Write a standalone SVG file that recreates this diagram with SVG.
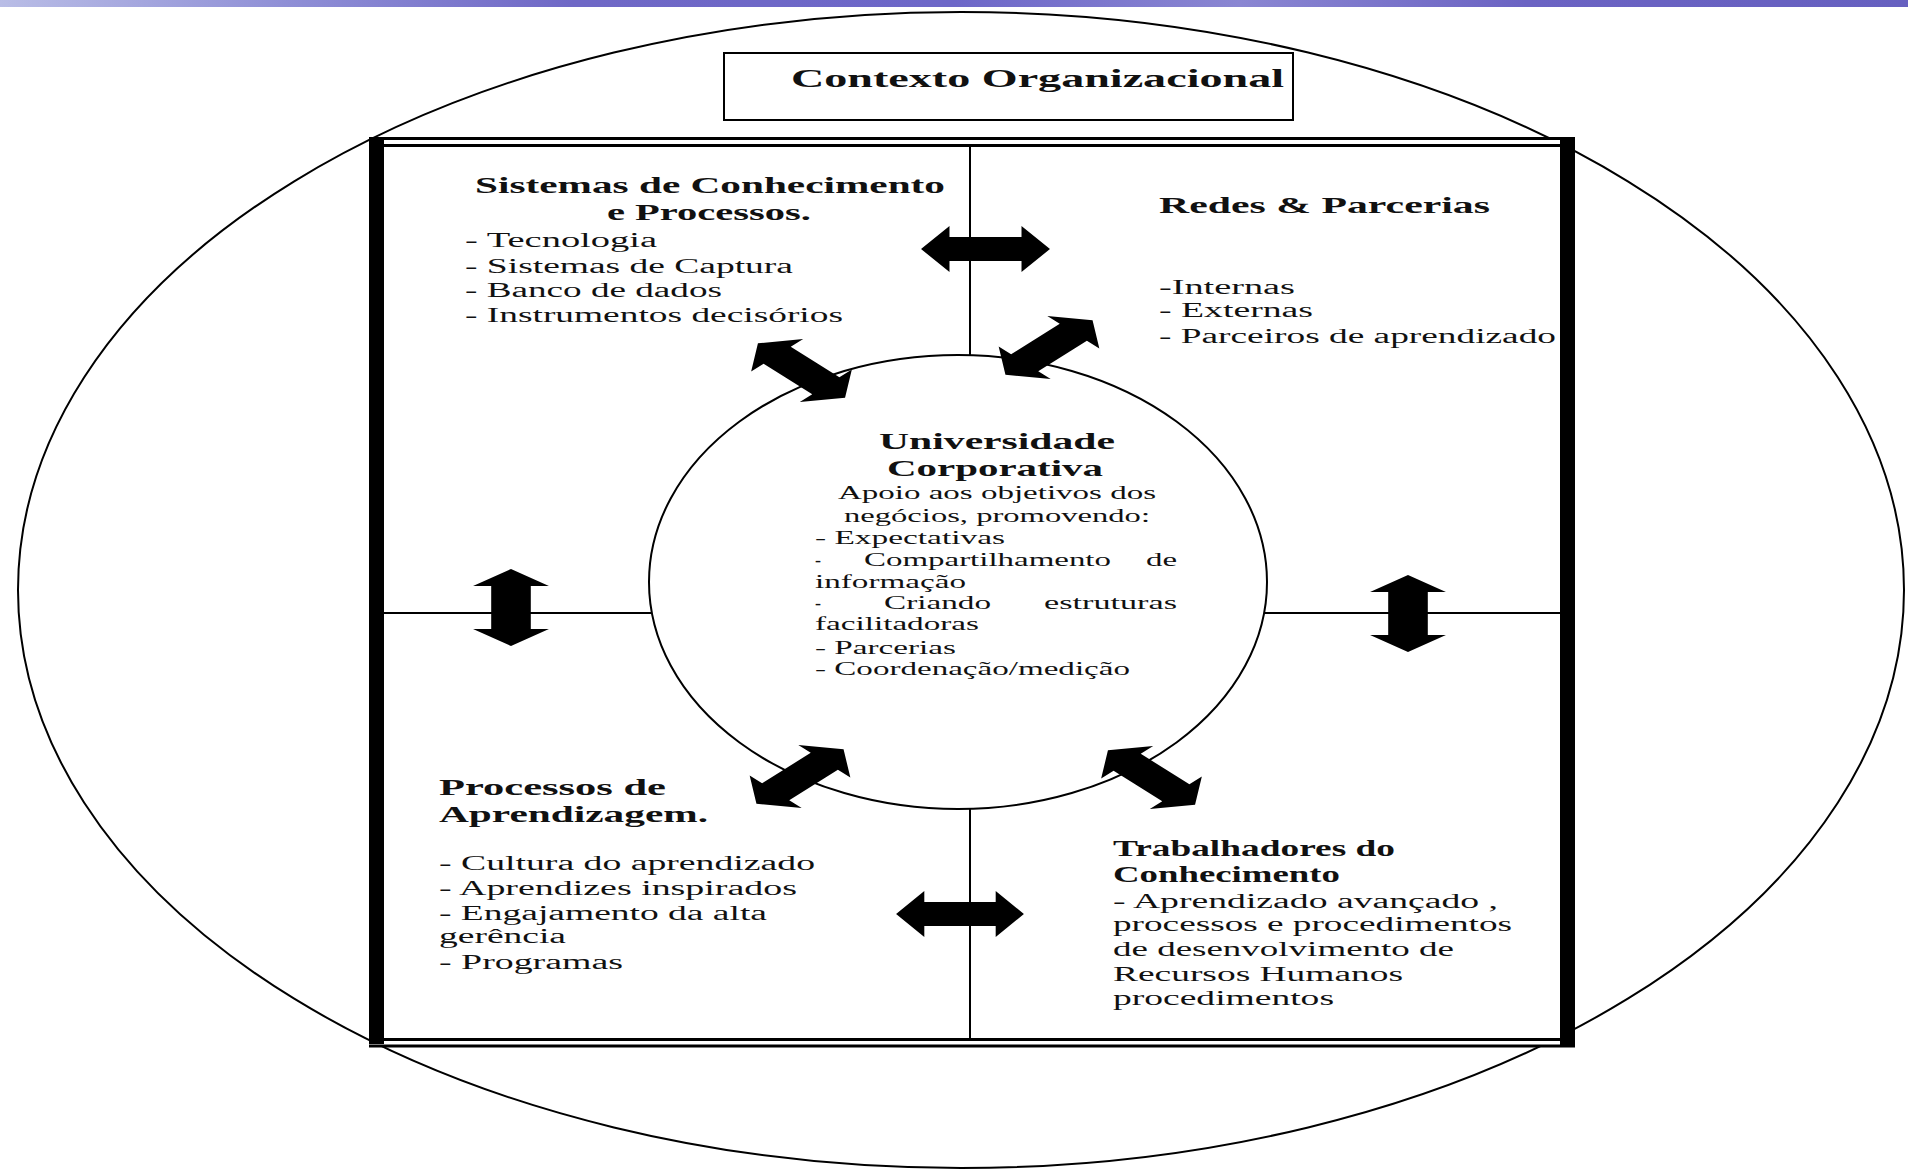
<svg xmlns="http://www.w3.org/2000/svg" width="1908" height="1170" viewBox="0 0 1908 1170">
<style>
.ln{fill:none;stroke:#000;stroke-width:2}
.t{font-family:"Liberation Serif","Times New Roman",serif;fill:#111}
.b{font-weight:bold;font-size:23px}
.r{font-size:20px}
.s{font-size:18px}
.arr{fill:#000}
</style>
<defs>
<linearGradient id="band" x1="0" y1="0" x2="1" y2="0">
<stop offset="0" stop-color="#b9bde6"/>
<stop offset="0.15" stop-color="#8f8fd6"/>
<stop offset="0.3" stop-color="#6f68c6"/>
<stop offset="0.5" stop-color="#6d67c8"/>
<stop offset="0.65" stop-color="#8a86d2"/>
<stop offset="0.8" stop-color="#6b63c3"/>
<stop offset="1" stop-color="#6660c0"/>
</linearGradient>
<polygon id="dbl" points="-38.5,0 -21.5,-23 -21.5,-12 21.5,-12 21.5,-23 38.5,0 21.5,23 21.5,12 -21.5,12 -21.5,23"/>
</defs>
<rect x="0" y="0" width="1908" height="1170" fill="#fff"/>
<rect x="0" y="0" width="1908" height="7" fill="url(#band)"/>

<g id="contexto">
<ellipse cx="961" cy="590" rx="943" ry="578" class="ln"/>
<rect x="724" y="53" width="569" height="67" fill="#fff" stroke="#000" stroke-width="2"/>
<text class="t" x="791" y="87" font-size="26" font-weight="bold" textLength="493" lengthAdjust="spacingAndGlyphs">Contexto Organizacional</text>
</g>

<g id="frame">
<rect x="369" y="137" width="1206" height="910" fill="#fff"/>
<line x1="369" y1="138.5" x2="1575" y2="138.5" stroke="#000" stroke-width="3"/>
<line x1="369" y1="145.5" x2="1575" y2="145.5" stroke="#000" stroke-width="3"/>
<line x1="369" y1="1039.5" x2="1575" y2="1039.5" stroke="#000" stroke-width="3"/>
<line x1="369" y1="1046" x2="1575" y2="1046" stroke="#000" stroke-width="3"/>
<rect x="369" y="137" width="15" height="907" fill="#000"/>
<rect x="1560" y="137" width="15" height="910" fill="#000"/>
</g>

<g id="connectors">
<line x1="970" y1="146" x2="970" y2="355" class="ln"/>
<line x1="970" y1="809" x2="970" y2="1039" class="ln"/>
<line x1="384" y1="613" x2="652" y2="613" class="ln"/>
<line x1="1265" y1="613" x2="1560" y2="613" class="ln"/>
<use href="#dbl" class="arr" transform="translate(985.5,249) scale(1.675,1)"/>
<use href="#dbl" class="arr" transform="translate(960,914) scale(1.66,1)"/>
<use href="#dbl" class="arr" transform="translate(511,607.5) scale(1.65,1) rotate(90)"/>
<use href="#dbl" class="arr" transform="translate(1408,613.5) scale(1.65,1) rotate(90)"/>
<use href="#dbl" class="arr" transform="translate(801.5,370.5) scale(1.6,1) rotate(45)"/>
<use href="#dbl" class="arr" transform="translate(1049,347.5) scale(1.6,1) rotate(-45)"/>
<use href="#dbl" class="arr" transform="translate(800,776.5) scale(1.6,1) rotate(-45)"/>
<use href="#dbl" class="arr" transform="translate(1151.5,777.5) scale(1.6,1) rotate(45)"/>
</g>

<g id="universidade">
<ellipse cx="958" cy="582" rx="309" ry="227" class="ln" fill="none"/>
<text class="t b" x="879" y="449" textLength="236" lengthAdjust="spacingAndGlyphs">Universidade</text>
<text class="t b" x="887" y="476" textLength="216" lengthAdjust="spacingAndGlyphs">Corporativa</text>
<text class="t s" x="838" y="499" textLength="318" lengthAdjust="spacingAndGlyphs">Apoio aos objetivos dos</text>
<text class="t s" x="844" y="522" textLength="306" lengthAdjust="spacingAndGlyphs">negócios, promovendo:</text>
<text class="t s" x="815" y="544" textLength="190" lengthAdjust="spacingAndGlyphs">- Expectativas</text>
<text class="t s" x="815" y="566">-</text>
<text class="t s" x="864" y="566" textLength="247" lengthAdjust="spacingAndGlyphs">Compartilhamento</text>
<text class="t s" x="1146" y="566" textLength="31" lengthAdjust="spacingAndGlyphs">de</text>
<text class="t s" x="815" y="588" textLength="151" lengthAdjust="spacingAndGlyphs">informação</text>
<text class="t s" x="815" y="609">-</text>
<text class="t s" x="884" y="609" textLength="107" lengthAdjust="spacingAndGlyphs">Criando</text>
<text class="t s" x="1044" y="609" textLength="133" lengthAdjust="spacingAndGlyphs">estruturas</text>
<text class="t s" x="815" y="630" textLength="164" lengthAdjust="spacingAndGlyphs">facilitadoras</text>
<text class="t s" x="815" y="654" textLength="141" lengthAdjust="spacingAndGlyphs">- Parcerias</text>
<text class="t s" x="815" y="675" textLength="315" lengthAdjust="spacingAndGlyphs">- Coordenação/medição</text>
</g>

<g id="sistemas">
<text class="t b" x="475" y="193" textLength="470" lengthAdjust="spacingAndGlyphs">Sistemas de Conhecimento</text>
<text class="t b" x="607" y="220" textLength="204" lengthAdjust="spacingAndGlyphs">e Processos.</text>
<text class="t r" x="465" y="247" textLength="192" lengthAdjust="spacingAndGlyphs">- Tecnologia</text>
<text class="t r" x="465" y="273" textLength="328" lengthAdjust="spacingAndGlyphs">- Sistemas de Captura</text>
<text class="t r" x="465" y="297" textLength="257" lengthAdjust="spacingAndGlyphs">- Banco de dados</text>
<text class="t r" x="465" y="322" textLength="378" lengthAdjust="spacingAndGlyphs">- Instrumentos decisórios</text>
</g>

<g id="redes">
<text class="t b" x="1159" y="213" textLength="331" lengthAdjust="spacingAndGlyphs">Redes &amp; Parcerias</text>
<text class="t r" x="1159" y="294" textLength="136" lengthAdjust="spacingAndGlyphs">-Internas</text>
<text class="t r" x="1159" y="317" textLength="154" lengthAdjust="spacingAndGlyphs">- Externas</text>
<text class="t r" x="1159" y="343" textLength="397" lengthAdjust="spacingAndGlyphs">- Parceiros de aprendizado</text>
</g>

<g id="processos">
<text class="t b" x="439" y="795" textLength="227" lengthAdjust="spacingAndGlyphs">Processos de</text>
<text class="t b" x="439" y="822" textLength="269" lengthAdjust="spacingAndGlyphs">Aprendizagem.</text>
<text class="t r" x="439" y="870" textLength="376" lengthAdjust="spacingAndGlyphs">- Cultura do aprendizado</text>
<text class="t r" x="439" y="895" textLength="358" lengthAdjust="spacingAndGlyphs">- Aprendizes inspirados</text>
<text class="t r" x="439" y="920" textLength="328" lengthAdjust="spacingAndGlyphs">- Engajamento da alta</text>
<text class="t r" x="439" y="943" textLength="127" lengthAdjust="spacingAndGlyphs">gerência</text>
<text class="t r" x="439" y="969" textLength="184" lengthAdjust="spacingAndGlyphs">- Programas</text>
</g>

<g id="trabalhadores">
<text class="t b" x="1113" y="856" font-size="21" textLength="282" lengthAdjust="spacingAndGlyphs">Trabalhadores do</text>
<text class="t b" x="1113" y="882" font-size="21" textLength="227" lengthAdjust="spacingAndGlyphs">Conhecimento</text>
<text class="t r" x="1113" y="908" textLength="385" lengthAdjust="spacingAndGlyphs">- Aprendizado avançado ,</text>
<text class="t r" x="1113" y="931" textLength="399" lengthAdjust="spacingAndGlyphs">processos e procedimentos</text>
<text class="t r" x="1113" y="956" textLength="341" lengthAdjust="spacingAndGlyphs">de desenvolvimento de</text>
<text class="t r" x="1113" y="981" textLength="290" lengthAdjust="spacingAndGlyphs">Recursos Humanos</text>
<text class="t r" x="1113" y="1005" textLength="221" lengthAdjust="spacingAndGlyphs">procedimentos</text>
</g>
</svg>
